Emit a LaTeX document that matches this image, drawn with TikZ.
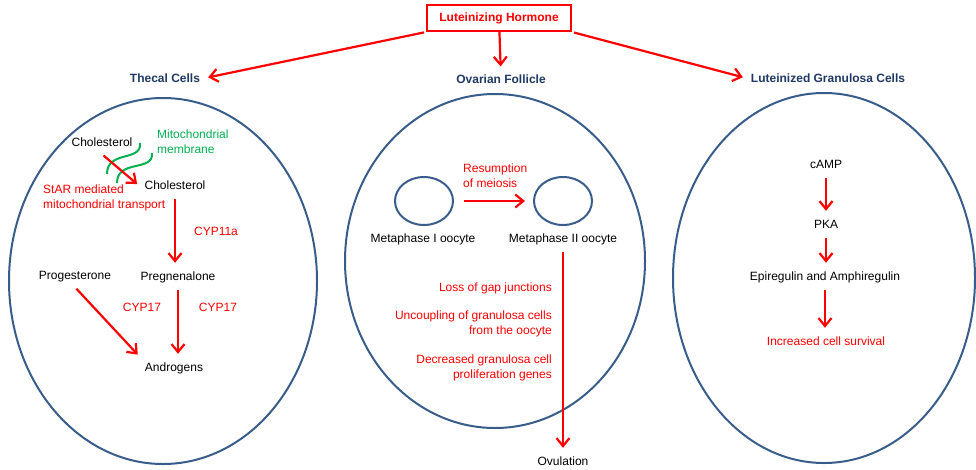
\documentclass[tikz,border=0pt]{standalone}
\usepackage{fontspec}
\setmainfont{Liberation Sans}
\usepackage{tikz}
\usetikzlibrary{arrows.meta,shapes.geometric}
\definecolor{lhred}{RGB}{255,0,0}
\definecolor{titleblue}{RGB}{31,56,100}
\definecolor{cellblue}{RGB}{56,93,138}
\definecolor{membgreen}{RGB}{0,176,80}

\begin{document}
\begin{tikzpicture}[x=1pt,y=-1pt,
  txt/.style={inner sep=5pt,text height=9pt,text depth=3pt,font=\fontsize{12}{15}\selectfont},
  twoline/.style={inner sep=5pt,font=\fontsize{12}{15}\selectfont},
  redtxt/.style={txt,text=lhred},
  title/.style={inner sep=5pt,text=titleblue,font=\fontsize{12}{15}\selectfont\bfseries},
  arr/.style={draw=lhred,line width=2.2pt,-{Straight Barb[length=8pt,width=13pt]},shorten <=2pt,shorten >=3pt},
  cell/.style={draw=cellblue,line width=2pt},
  memb/.style={draw=membgreen,line width=2pt}]
\useasboundingbox (0,0) rectangle (976,469);
\node[draw=lhred,line width=2pt,minimum width=144,minimum height=26,inner sep=0pt,text=lhred,font=\fontsize{12}{15}\selectfont\bfseries] (lh) at (499,18) {Luteinizing Hormone};
\node[title] (thecal) at (165,78) {Thecal Cells};
\node[title] (ovf) at (501,79) {Ovarian Follicle};
\node[title] (lgc) at (828,78) {Luteinized Granulosa Cells};
\draw[arr] (lh.south west) -- (thecal.east);
\draw[arr,shorten <=0pt] (lh) -- (ovf);
\draw[arr] (lh.south east) -- (lgc.west);
\draw[cell] (163,281) ellipse [x radius=154,y radius=183];
\draw[cell] (495,261) ellipse [x radius=150,y radius=167];
\draw[cell] (824,278) ellipse [x radius=151,y radius=185];
\node[txt] (chol1) at (102,143) {Cholesterol};
\node[twoline,anchor=west,align=left,text=membgreen] (memb) at (152,142) {Mitochondrial\\membrane};
\node[txt] (chol2) at (175,186) {Cholesterol};
\node[twoline,anchor=west,align=left,text=lhred] (star) at (38,198) {StAR mediated\\mitochondrial transport};
\draw[memb] (140,143) .. controls (142,162) and (107,150) .. (107,174);
\draw[memb] (152,153) .. controls (154,172) and (117,159) .. (117,183);
\draw[arr] (chol1.south) -- (chol2.west);
\node[txt] (preg) at (178,277) {Pregnenalone};
\node[txt] (prog) at (75,276) {Progesterone};
\node[txt] (andro) at (174,368) {Androgens};
\node[redtxt] (cyp11) at (216,232) {CYP11a};
\node[redtxt] (cypa) at (142,308) {CYP17};
\node[redtxt] (cypb) at (218,308) {CYP17};
\draw[arr] (chol2) -- (chol2 |- preg.north);
\draw[arr] (preg) -- (preg |- andro.north);
\draw[arr] (prog.south) -- (andro.north west);
\node[draw=cellblue,line width=2pt,ellipse,minimum width=58,minimum height=48] (mI) at (424,201) {};
\node[draw=cellblue,line width=2pt,ellipse,minimum width=58,minimum height=48] (mII) at (563,201) {};
\node[twoline,anchor=west,align=left,text=lhred] (resum) at (458,176) {Resumption\\of meiosis};
\draw[arr,shorten <=10pt,shorten >=8pt] (mI) -- (mII);
\node[txt] (metI) at (423,239) {Metaphase I oocyte};
\node[txt] (metII) at (563,239) {Metaphase II oocyte};
\node[txt] (ovul) at (563,462) {Ovulation};
\draw[arr] (metII) -- (ovul);
\node[redtxt,anchor=east,align=right] (gap) at (557,288) {Loss of gap junctions};
\node[twoline,anchor=east,align=right,text=lhred] (unc) at (557,324) {Uncoupling of granulosa cells\\from the oocyte};
\node[twoline,anchor=east,align=right,text=lhred] (decr) at (557,368) {Decreased granulosa cell\\proliferation genes};
\node[txt] (camp) at (826,165) {cAMP};
\node[txt] (pka) at (826,225) {PKA};
\node[txt] (epi) at (825,277) {Epiregulin and Amphiregulin};
\node[redtxt] (surv) at (826,342) {Increased cell survival};
\draw[arr] (camp) -- (pka);
\draw[arr] (pka) -- (pka |- epi.north);
\draw[arr] (epi) -- (epi |- surv.north);
\end{tikzpicture}
\end{document}
